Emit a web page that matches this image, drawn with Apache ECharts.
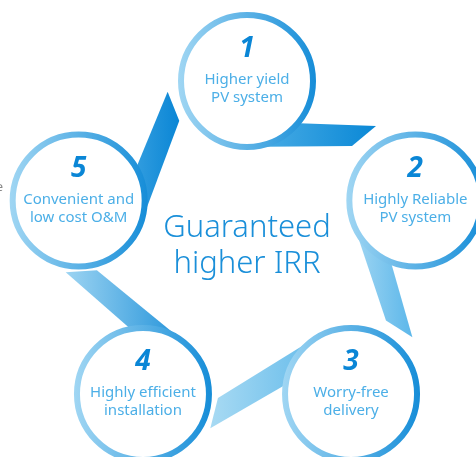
<!DOCTYPE html>
<html><head><meta charset="utf-8">
<script src="https://cdn.jsdelivr.net/npm/echarts@6/dist/echarts.min.js"></script>
<style>html,body{margin:0;padding:0;background:#fff}#c{width:476px;height:457px}</style>
</head><body><div id="c"></div>
<script>
// ---- data ----
const stepNumbers = ['1', '2', '3', '4', '5'];
const stepLine1 = ['Higher yield', 'Highly Reliable', 'Worry-free', 'Highly efficient', 'Convenient and'];
const stepLine2 = ['PV system', 'PV system', 'delivery', 'installation', 'low cost O&M'];
const centerLines = ['Guaranteed', 'higher IRR'];

// ---- layout / style ----
const PCX = 247, PCY = 254, RX = 177, RY = 173;
const RING_R = 66, RING_W = 6;
// connector outline in the local frame of its starting circle: inner-start, inner-tip, outer-tip, outer-start
const CONNECTOR_SHAPE = [[-10, 40], [129, 45], [105, 65], [-10, 66]];
const TIP_SHIFT = [[0, 0], [0, 0], [5, 10], [5, 8], [2, 6]];
const connFrom = ['#55b3e8', '#a5d8f3', '#a8daf3', '#9dd4f2', '#45a8e4'];
const connTo = ['#0a88d6', '#5cb7ea', '#5ab6e9', '#1c8fd8', '#0a86d5'];
const FONT = '"Noto Sans", "Open Sans", sans-serif';

const nodeData = stepNumbers.map((n, i) => {
  const a = (-90 + 72 * i) * Math.PI / 180;
  return [PCX + RX * Math.cos(a), PCY + RY * Math.sin(a), i];
});

function grad(c0, c1) {
  return new echarts.graphic.LinearGradient(0, 0, 1, 0, [
    { offset: 0, color: c0 }, { offset: 1, color: c1 }
  ]);
}

const chart = echarts.init(document.getElementById('c'), null, { renderer: 'canvas' });
chart.setOption({
  animation: false,
  backgroundColor: '#fff',
  grid: { left: 0, right: 0, top: 0, bottom: 0 },
  xAxis: { type: 'value', min: 0, max: 476, show: false },
  yAxis: { type: 'value', min: 0, max: 457, inverse: true, show: false },
  series: [
    {
      type: 'custom', z: 1, data: nodeData, silent: true, clip: false,
      renderItem: function (params, api) {
        const i = api.value(2);
        const c = api.coord([api.value(0), api.value(1)]);
        const phi = i * 72 * Math.PI / 180;
        const cs = Math.cos(phi), sn = Math.sin(phi);
        const sh = TIP_SHIFT[i];
        const pts = CONNECTOR_SHAPE.map((p, k) => {
          const x = p[0] + ((k === 1 || k === 2) ? sh[0] : 0);
          const y = p[1] + ((k === 1 || k === 2) ? sh[1] : 0);
          return [c[0] + x * cs - y * sn, c[1] + x * sn + y * cs];
        });
        return { type: 'polygon', shape: { points: pts }, style: { fill: grad(connFrom[i], connTo[i]) } };
      }
    },
    {
      type: 'custom', z: 2, data: nodeData, silent: true, clip: false,
      renderItem: function (params, api) {
        const i = api.value(2);
        const c = api.coord([api.value(0), api.value(1)]);
        return {
          type: 'group',
          children: [
            { type: 'circle', shape: { cx: c[0], cy: c[1], r: RING_R },
              style: { fill: '#fff', stroke: grad('#a0d6f3', '#168dd8'), lineWidth: RING_W } },
            { type: 'text', style: { text: stepNumbers[i], x: c[0], y: c[1] - 32, align: 'center', verticalAlign: 'middle',
                fill: '#0a86d6', fontSize: 28, fontWeight: 'bold', fontStyle: 'italic', fontFamily: FONT } },
            { type: 'text', style: { text: stepLine1[i], x: c[0], y: c[1] - 1, align: 'center', verticalAlign: 'middle',
                fill: '#4cafe7', fontSize: 15, fontFamily: FONT } },
            { type: 'text', style: { text: stepLine2[i], x: c[0], y: c[1] + 17, align: 'center', verticalAlign: 'middle',
                fill: '#4cafe7', fontSize: 15, fontFamily: FONT } }
          ]
        };
      }
    }
  ],
  graphic: [
    { type: 'text', style: { text: centerLines[0], x: 247, y: 228, align: 'center', verticalAlign: 'middle',
        fill: '#1a8fd9', fontSize: 31, fontWeight: 300, fontFamily: FONT } },
    { type: 'text', style: { text: centerLines[1], x: 247, y: 264, align: 'center', verticalAlign: 'middle',
        fill: '#1a8fd9', fontSize: 31, fontWeight: 300, fontFamily: FONT } },
    { type: 'text', style: { text: 'e', x: 3, y: 187, align: 'right', verticalAlign: 'middle',
        fill: '#888', fontSize: 13, fontFamily: FONT } }
  ]
});
</script>
</body></html>
